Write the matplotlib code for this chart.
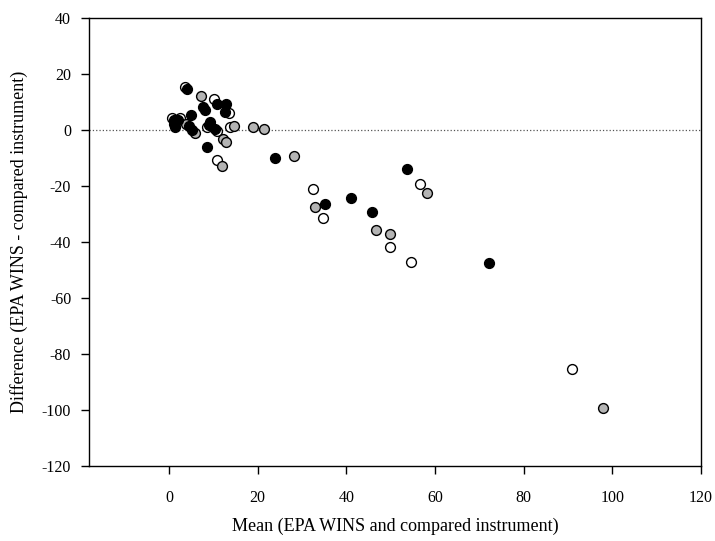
import matplotlib.pyplot as plt

# open circles
open_x = [3.5, 10.2, 13.6, 0.6, 2.5, 8.6, 10.8, 13.8, 10.9, 32.4, 34.8, 49.8, 54.6, 56.5, 91.0]
open_y = [15.5, 11.0, 6.0, 4.2, 4.2, 1.0, -0.4, 1.2, -10.5, -21.1, -31.5, -41.7, -47.0, -19.3, -85.4]

# grey circles
grey_x = [7.2, 3.8, 5.9, 14.7, 18.9, 21.4, 12.1, 12.9, 11.9, 28.2, 33.0, 46.6, 49.8, 58.1, 97.9]
grey_y = [12.1, 2.4, -1.0, 1.5, 1.0, 0.6, -3.0, -4.2, -12.9, -9.2, -27.6, -35.5, -37.2, -22.3, -99.2]

# black circles
black_x = [4.0, 10.8, 12.9, 7.7, 8.0, 12.6, 4.9, 1.0, 1.1, 2.1, 1.4, 4.6, 5.1, 9.3, 9.1,
           10.4, 8.5, 23.9, 35.1, 41.0, 45.8, 53.7, 72.1]
black_y = [14.9, 9.5, 9.5, 8.3, 7.4, 6.5, 5.3, 3.6, 2.4, 3.6, 1.2, 1.4, 0.2, 3.0, 2.0,
           0.6, -6.0, -9.8, -26.2, -24.4, -29.2, -13.7, -47.6]

plt.rcParams['font.family'] = ['Liberation Serif', 'DejaVu Serif']
plt.rcParams['axes.unicode_minus'] = False

fig = plt.figure(figsize=(7.15, 5.41), dpi=100)
ax = fig.add_axes([0.1249, 0.1386, 0.8555, 0.8276])

ax.axhline(0, color='#555555', linestyle=':', linewidth=0.9, zorder=1)

ax.scatter(open_x, open_y, s=50, facecolor='white', edgecolor='black', linewidth=1, zorder=2)
ax.scatter(grey_x, grey_y, s=50, facecolor='#b4b4b4', edgecolor='black', linewidth=1, zorder=3)
ax.scatter(black_x, black_y, s=50, facecolor='black', edgecolor='black', linewidth=1, zorder=4)

ax.set_xlim(-18, 120)
ax.set_ylim(-120, 40)
ax.set_xticks(range(0, 121, 20))
ax.set_yticks(range(-120, 41, 20))
ax.tick_params(direction='out', length=6, width=1, labelsize=11.5, top=False, right=False)
ax.tick_params(axis='x', pad=11)
ax.tick_params(axis='y', pad=7)
for sp in ax.spines.values():
    sp.set_linewidth(1)

ax.set_xlabel("Mean (EPA WINS and compared instrument)", fontsize=13, labelpad=9)
ax.set_ylabel("Difference (EPA WINS - compared instrument)", fontsize=13, labelpad=10)

plt.savefig("out.png", dpi=100)
